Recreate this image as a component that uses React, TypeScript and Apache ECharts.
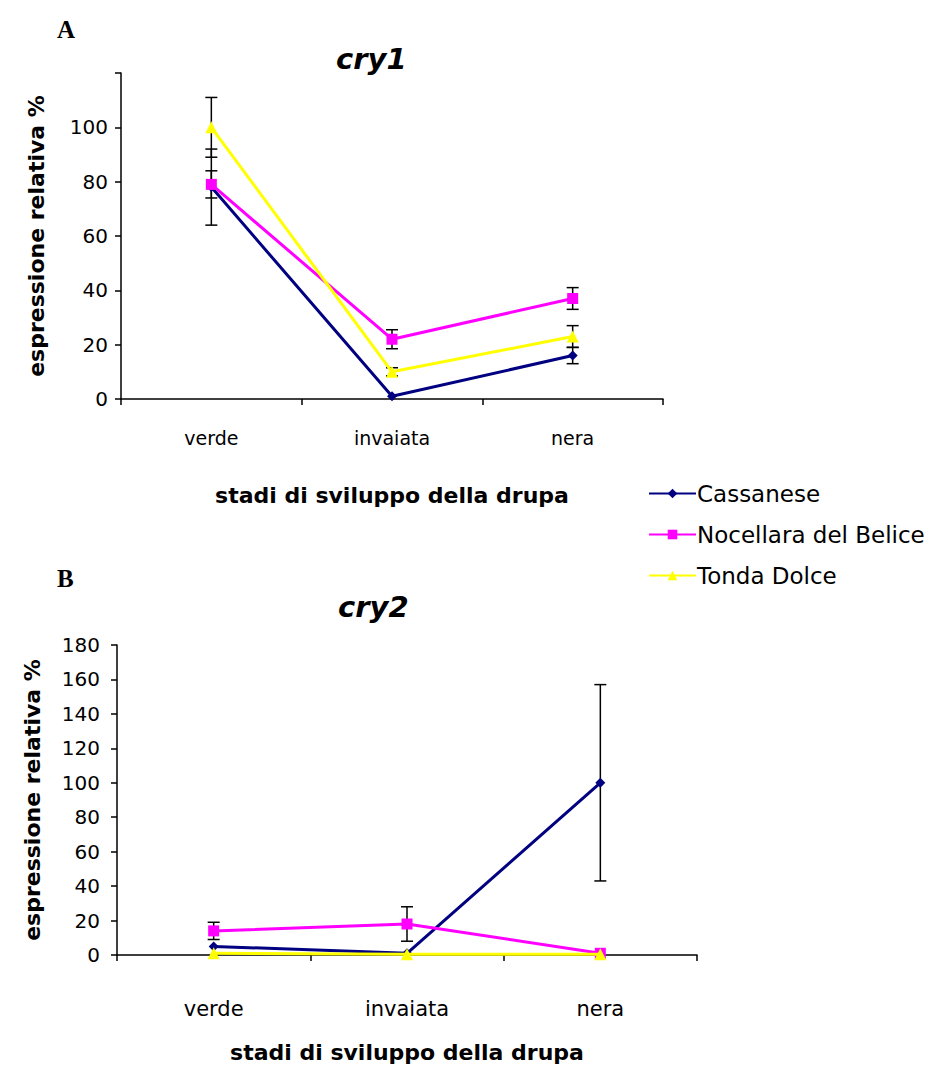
import React, { useEffect, useRef } from "react";
import * as echarts from "echarts";

const categories = ["verde", "invaiata", "nera"];
const seriesNames = ["Cassanese", "Nocellara del Belice", "Tonda Dolce"];
const seriesColors = ["#000080", "#FF00FF", "#FFFF00"];
const seriesSymbols = ["diamond", "rect", "triangle"];
const seriesSymbolSizes = [10, 11, 12];

// cry1 (panel A)
const cry1Cassanese = [78, 1, 16];
const cry1CassaneseErr = [14, 0, 3];
const cry1Nocellara = [79, 22, 37];
const cry1NocellaraErr = [5, 3.5, 4];
const cry1Tonda = [100, 10, 23];
const cry1TondaErr = [11, 1.5, 4];

// cry2 (panel B)
const cry2Cassanese = [5, 1, 100];
const cry2CassaneseErr = [0, 0, 57];
const cry2Nocellara = [14, 18, 1];
const cry2NocellaraErr = [5, 10, 0];
const cry2Tonda = [1, 0.5, 0.5];
const cry2TondaErr = [0, 0, 0];

const yTicksA = { min: 0, max: 120, interval: 20, hideTop: true };
const yTicksB = { min: 0, max: 180, interval: 20, hideTop: false };

const FONT = "DejaVu Sans";

export default function App() {
  const ref = useRef<HTMLDivElement>(null);

  useEffect(() => {
    if (!ref.current) return;
    const chart = echarts.init(ref.current, null, { renderer: "svg" });

    const valsA = [cry1Cassanese, cry1Nocellara, cry1Tonda];
    const errsA = [cry1CassaneseErr, cry1NocellaraErr, cry1TondaErr];
    const valsB = [cry2Cassanese, cry2Nocellara, cry2Tonda];
    const errsB = [cry2CassaneseErr, cry2NocellaraErr, cry2TondaErr];

    const errorSeries = (vals: number[][], errs: number[][], idx: number) => {
      const data: number[][] = [];
      vals.forEach((v, s) =>
        v.forEach((val, i) => {
          if (errs[s][i] > 0) data.push([i, val, errs[s][i]]);
        })
      );
      return {
        type: "custom",
        xAxisIndex: idx,
        yAxisIndex: idx,
        z: 1,
        silent: true,
        encode: { x: 0, y: 1 },
        data,
        renderItem: (params: any, api: any) => {
          const c = api.value(0);
          const v = api.value(1);
          const e = api.value(2);
          const top = api.coord([c, v + e]);
          const bot = api.coord([c, v - e]);
          const hw = 6;
          const style = { stroke: "#000", lineWidth: 1.5 };
          return {
            type: "group",
            children: [
              { type: "line", shape: { x1: top[0], y1: top[1], x2: bot[0], y2: bot[1] }, style },
              { type: "line", shape: { x1: top[0] - hw, y1: top[1], x2: top[0] + hw, y2: top[1] }, style },
              { type: "line", shape: { x1: bot[0] - hw, y1: bot[1], x2: bot[0] + hw, y2: bot[1] }, style },
            ],
          };
        },
      };
    };

    const lineSeries = (vals: number[][], idx: number) =>
      vals.map((v, s) => ({
        type: "line",
        name: seriesNames[s],
        xAxisIndex: idx,
        yAxisIndex: idx,
        data: v,
        z: 2 + s,
        symbol: seriesSymbols[s],
        symbolSize: seriesSymbolSizes[s],
        showAllSymbol: true,
        clip: false,
        lineStyle: { color: seriesColors[s], width: 3 },
        itemStyle: { color: seriesColors[s] },
      }));

    const makeX = (idx: number, fontSize: number, margin: number, nameGap: number) => ({
      type: "category",
      gridIndex: idx,
      data: categories,
      boundaryGap: true,
      axisLine: { lineStyle: { color: "#000", width: 1.5 } },
      axisTick: { show: true, length: 6, lineStyle: { color: "#000", width: 1.5 } },
      axisLabel: { color: "#000", fontFamily: FONT, fontSize, margin },
      name: "stadi di sviluppo della drupa",
      nameLocation: "middle",
      nameGap,
      nameTextStyle: { color: "#000", fontFamily: FONT, fontSize: 22, fontWeight: "bold" },
      splitLine: { show: false },
    });

    const makeY = (idx: number, t: any, margin: number, nameGap: number) => ({
      type: "value",
      gridIndex: idx,
      min: t.min,
      max: t.max,
      interval: t.interval,
      axisLine: { show: true, lineStyle: { color: "#000", width: 1.5 } },
      axisTick: { show: true, length: 6, lineStyle: { color: "#000", width: 1.5 } },
      axisLabel: {
        color: "#000",
        fontFamily: FONT,
        fontSize: 20,
        margin,
        formatter: (v: number) => (t.hideTop && v === t.max ? "" : String(v)),
      },
      splitLine: { show: false },
      name: "espressione relativa %",
      nameLocation: "middle",
      nameRotate: 90,
      nameGap,
      nameTextStyle: { color: "#000", fontFamily: FONT, fontSize: 22, fontWeight: "bold" },
    });

    chart.setOption({
      animation: false,
      backgroundColor: "#fff",
      title: [
        { text: "A", left: 52, top: 12, textStyle: { fontFamily: "Liberation Serif", fontSize: 25, fontWeight: "bold", color: "#000" } },
        { text: "cry1", left: 331, top: 39, textStyle: { fontFamily: FONT, fontSize: 29, fontWeight: "bold", fontStyle: "italic", color: "#000" } },
        { text: "B", left: 52, top: 561, textStyle: { fontFamily: "Liberation Serif", fontSize: 25, fontWeight: "bold", color: "#000" } },
        { text: "cry2", left: 333, top: 587, textStyle: { fontFamily: FONT, fontSize: 29, fontWeight: "bold", fontStyle: "italic", color: "#000" } },
      ],
      legend: {
        data: seriesNames,
        orient: "vertical",
        left: 643,
        top: 477,
        itemWidth: 47,
        itemHeight: 12,
        itemGap: 18,
        textStyle: { fontFamily: FONT, fontSize: 23, color: "#000", padding: [0, 0, 0, -4] },
        selectedMode: false,
      },
      grid: [
        { left: 121, top: 73, width: 542, height: 326 },
        { left: 117, top: 645, width: 580, height: 310 },
      ],
      xAxis: [makeX(0, 19, 29, 85), makeX(1, 21, 43, 86)],
      yAxis: [makeY(0, yTicksA, 13, 74), makeY(1, yTicksB, 17, 74)],
      series: [
        errorSeries(valsA, errsA, 0),
        ...lineSeries(valsA, 0),
        errorSeries(valsB, errsB, 1),
        ...lineSeries(valsB, 1),
      ],
    });

    return () => chart.dispose();
  }, []);

  return (
    <div
      ref={ref}
      style={{ position: "absolute", left: 0, top: 0, width: 933, height: 1090, background: "#fff" }}
    />
  );
}
